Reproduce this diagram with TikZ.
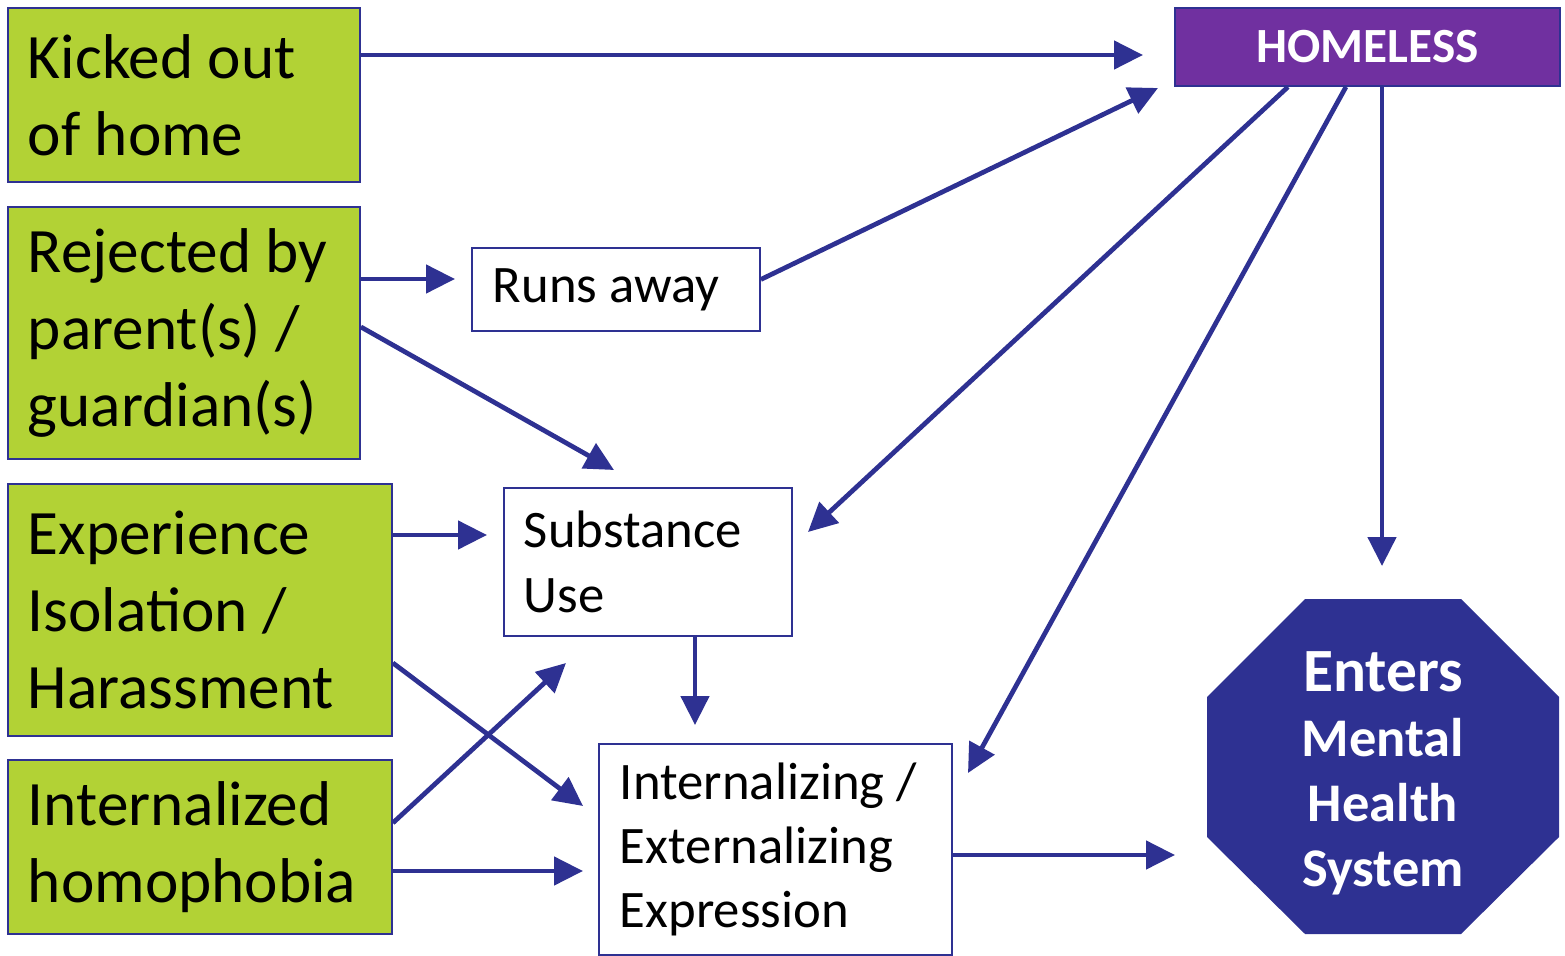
\documentclass[tikz,border=0pt]{standalone}
\usepackage{fontspec}
\setmainfont{Carlito}
\usetikzlibrary{arrows.meta,calc}
\definecolor{navy}{HTML}{2E3192}
\definecolor{lime}{HTML}{B2D235}
\definecolor{purp}{HTML}{7030A0}
\tikzset{
 gbox/.style={draw=navy, line width=1.1pt, fill=lime, anchor=north west, inner xsep=0.4cm, inner ysep=0pt, align=flush left, font=\fontsize{36}{44}\selectfont},
 wbox/.style={draw=navy, line width=1.1pt, fill=white, anchor=north west, inner xsep=0.42cm, inner ysep=0pt, align=flush left, font=\fontsize{30}{36.5}\selectfont},
 hbox/.style={draw=navy, line width=1.1pt, fill=purp, anchor=north west, inner sep=0pt, align=center, text=white, font=\fontsize{28}{34}\selectfont\bfseries},
 arr/.style={draw=navy, line width=2.7pt, -{Triangle[length=0.58cm,width=0.56cm]}}
}
\begin{document}
\begin{tikzpicture}[x=0.02cm,y=-0.02cm]
\useasboundingbox (0,0) rectangle (1565,956);
% left boxes
\node[gbox, minimum width=7.04cm, minimum height=3.48cm, text width=6.24cm] (A) at (7,7) {Kicked out\\of home};
\node[gbox, minimum width=7.04cm, minimum height=5.04cm, text width=6.24cm] (B) at (7,206) {Rejected by\\parent(s) /\\guardian(s)};
\node[gbox, minimum width=7.68cm, minimum height=5.04cm, text width=6.88cm] (C) at (7,483) {Experience\\Isolation /\\Harassment};
\node[gbox, minimum width=7.68cm, minimum height=3.48cm, text width=6.88cm] (D) at (7,759) {Internalized\\homophobia};
% middle boxes
\node[wbox, minimum width=5.76cm, minimum height=1.66cm, text width=4.92cm] (R) at (471,247) {Runs away};
\node[wbox, minimum width=5.76cm, minimum height=2.96cm, text width=4.96cm, inner xsep=0.4cm] (S) at (503,487) {Substance\\Use};
\node[wbox, minimum width=7.06cm, minimum height=4.22cm, text width=6.22cm] (I) at (598,743) {Internalizing /\\Externalizing\\Expression};
% homeless
\node[hbox, minimum width=7.7cm, minimum height=1.56cm] (H) at (1174,7) {HOMELESS};
% octagon
\fill[navy] (1305,599) -- (1461,599) -- (1559,697) -- (1559,837) -- (1461,934) -- (1305,934) -- (1207,837) -- (1207,697) -- cycle;
\node[align=center, text=white, font=\fontsize{31}{37}\selectfont\bfseries, inner sep=0pt] (O) at (1383,773) {{\fontsize{35}{37}\selectfont Enters}\\Mental\\Health\\System};
% tip coordinates
\coordinate (t1) at (1143,55);
\coordinate (t2) at (1158,88);
\coordinate (t3) at (455,279);
\coordinate (t4) at (614,470);
\coordinate (t5) at (487,535);
\coordinate (t6) at (583,806);
\coordinate (t7) at (566,663);
\coordinate (t8) at (583,871);
\coordinate (t9) at (695,725);
\coordinate (t10) at (808,532);
\coordinate (t11) at (968,773);
\coordinate (t12) at (1382,566);
\coordinate (t13) at (1175,855);
% arrows
\draw[arr] (A.east |- t1) -- (t1);
\draw[arr] ([yshift=0.2cm]R.east) -- (t2);
\draw[arr] (B.east |- t3) -- (t3);
\draw[arr] ([yshift=0.12cm]B.east) -- (t4);
\draw[arr] (C.east |- t5) -- (t5);
\draw[arr] ([yshift=-1.06cm]C.east) -- (t6);
\draw[arr] ([yshift=0.48cm]D.east) -- (t7);
\draw[arr] (D.east |- t8) -- (t8);
\draw[arr] (S.south -| t9) -- (t9);
\draw[arr] ([xshift=-1.59cm]H.south) -- (t10);
\draw[arr] ([xshift=-0.43cm]H.south) -- (t11);
\draw[arr] (H.south -| t12) -- (t12);
\draw[arr] (I.east |- t13) -- (t13);
\end{tikzpicture}
\end{document}
